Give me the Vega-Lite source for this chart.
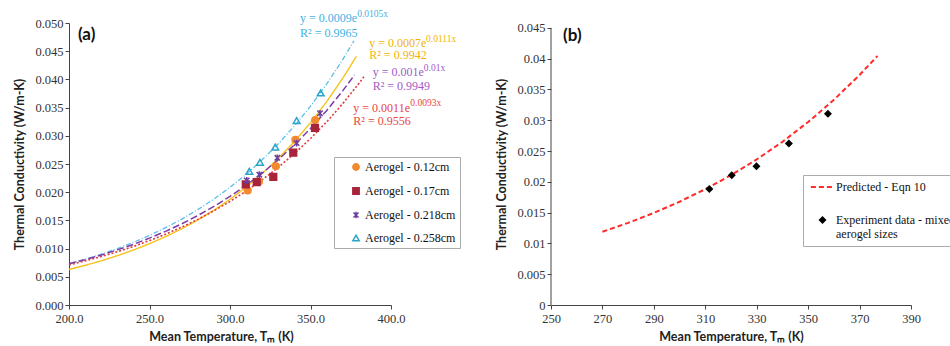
{
  "$schema": "https://vega.github.io/schema/vega-lite/v6.json",
  "background": "white",
  "padding": {"left": 13, "top": 8, "right": 0, "bottom": 0},
  "autosize": {"type": "pad"},
  "spacing": 160,
  "bounds": "flush",
  "resolve": {
    "scale": {"color": "independent", "fill": "independent", "stroke": "independent", "shape": "independent", "strokeDash": "independent", "strokeWidth": "independent"},
    "legend": {"color": "independent", "fill": "independent", "stroke": "independent", "shape": "independent", "strokeDash": "independent", "strokeWidth": "independent"}
  },
  "config": {
    "view": {"stroke": null},
    "axis": {
      "labelFont": "Liberation Serif", "labelFontSize": 12.5, "labelColor": "#333",
      "titleFont": "Lato", "titleFontSize": 12.5, "titleFontWeight": "bold", "titleColor": "#222",
      "domainColor": "#444", "tickColor": "#444", "tickSize": 4, "grid": false, "domainWidth": 1,
      "labelOverlap": false, "labelFlush": false
    }
  },
  "datasets": {
    "curvesA": [
      {"T": 200, "k": 0.0073, "curve": "0.258"}, {"T": 210, "k": 0.00811, "curve": "0.258"}, {"T": 220, "k": 0.00901, "curve": "0.258"},
      {"T": 230, "k": 0.01, "curve": "0.258"}, {"T": 240, "k": 0.01111, "curve": "0.258"}, {"T": 250, "k": 0.01234, "curve": "0.258"},
      {"T": 260, "k": 0.01371, "curve": "0.258"}, {"T": 270, "k": 0.01522, "curve": "0.258"}, {"T": 280, "k": 0.01691, "curve": "0.258"},
      {"T": 290, "k": 0.01878, "curve": "0.258"}, {"T": 300, "k": 0.02086, "curve": "0.258"}, {"T": 310, "k": 0.02317, "curve": "0.258"},
      {"T": 320, "k": 0.02574, "curve": "0.258"}, {"T": 330, "k": 0.02858, "curve": "0.258"}, {"T": 340, "k": 0.03175, "curve": "0.258"},
      {"T": 350, "k": 0.03526, "curve": "0.258"}, {"T": 360, "k": 0.03917, "curve": "0.258"}, {"T": 370, "k": 0.0435, "curve": "0.258"},
      {"T": 377, "k": 0.04683, "curve": "0.258"},
      {"T": 200, "k": 0.0063, "curve": "0.12"}, {"T": 210, "k": 0.00703, "curve": "0.12"}, {"T": 220, "k": 0.00783, "curve": "0.12"},
      {"T": 230, "k": 0.00874, "curve": "0.12"}, {"T": 240, "k": 0.00974, "curve": "0.12"}, {"T": 250, "k": 0.01087, "curve": "0.12"},
      {"T": 260, "k": 0.01212, "curve": "0.12"}, {"T": 270, "k": 0.01351, "curve": "0.12"}, {"T": 280, "k": 0.01507, "curve": "0.12"},
      {"T": 290, "k": 0.0168, "curve": "0.12"}, {"T": 300, "k": 0.01874, "curve": "0.12"}, {"T": 310, "k": 0.0209, "curve": "0.12"},
      {"T": 320, "k": 0.0233, "curve": "0.12"}, {"T": 330, "k": 0.02599, "curve": "0.12"}, {"T": 340, "k": 0.02898, "curve": "0.12"},
      {"T": 350, "k": 0.03232, "curve": "0.12"}, {"T": 360, "k": 0.03604, "curve": "0.12"}, {"T": 370, "k": 0.04019, "curve": "0.12"},
      {"T": 378.5, "k": 0.04409, "curve": "0.12"},
      {"T": 200, "k": 0.0073, "curve": "0.218"}, {"T": 210, "k": 0.00804, "curve": "0.218"}, {"T": 220, "k": 0.00886, "curve": "0.218"},
      {"T": 230, "k": 0.00977, "curve": "0.218"}, {"T": 240, "k": 0.01076, "curve": "0.218"}, {"T": 250, "k": 0.01186, "curve": "0.218"},
      {"T": 260, "k": 0.01306, "curve": "0.218"}, {"T": 270, "k": 0.01439, "curve": "0.218"}, {"T": 280, "k": 0.01586, "curve": "0.218"},
      {"T": 290, "k": 0.01748, "curve": "0.218"}, {"T": 300, "k": 0.01926, "curve": "0.218"}, {"T": 310, "k": 0.02122, "curve": "0.218"},
      {"T": 320, "k": 0.02338, "curve": "0.218"}, {"T": 330, "k": 0.02576, "curve": "0.218"}, {"T": 340, "k": 0.02839, "curve": "0.218"},
      {"T": 350, "k": 0.03128, "curve": "0.218"}, {"T": 360, "k": 0.03446, "curve": "0.218"}, {"T": 370, "k": 0.03797, "curve": "0.218"},
      {"T": 377.4, "k": 0.0408, "curve": "0.218"},
      {"T": 200, "k": 0.0071, "curve": "0.17"}, {"T": 210, "k": 0.00781, "curve": "0.17"}, {"T": 220, "k": 0.00859, "curve": "0.17"},
      {"T": 230, "k": 0.00944, "curve": "0.17"}, {"T": 240, "k": 0.01038, "curve": "0.17"}, {"T": 250, "k": 0.01142, "curve": "0.17"},
      {"T": 260, "k": 0.01256, "curve": "0.17"}, {"T": 270, "k": 0.01381, "curve": "0.17"}, {"T": 280, "k": 0.01518, "curve": "0.17"},
      {"T": 290, "k": 0.0167, "curve": "0.17"}, {"T": 300, "k": 0.01836, "curve": "0.17"}, {"T": 310, "k": 0.02019, "curve": "0.17"},
      {"T": 320, "k": 0.0222, "curve": "0.17"}, {"T": 330, "k": 0.02441, "curve": "0.17"}, {"T": 340, "k": 0.02685, "curve": "0.17"},
      {"T": 350, "k": 0.02952, "curve": "0.17"}, {"T": 360, "k": 0.03246, "curve": "0.17"}, {"T": 370, "k": 0.0357, "curve": "0.17"},
      {"T": 380, "k": 0.03926, "curve": "0.17"}, {"T": 384, "k": 0.04078, "curve": "0.17"}
    ],
    "pointsA": [
      {"T": 311, "k": 0.0203, "sample": "Aerogel - 0.12cm"}, {"T": 318, "k": 0.0219, "sample": "Aerogel - 0.12cm"},
      {"T": 328.5, "k": 0.0246, "sample": "Aerogel - 0.12cm"}, {"T": 340.6, "k": 0.0293, "sample": "Aerogel - 0.12cm"},
      {"T": 352.9, "k": 0.0328, "sample": "Aerogel - 0.12cm"},
      {"T": 309.8, "k": 0.0214, "sample": "Aerogel - 0.17cm"}, {"T": 316.6, "k": 0.0218, "sample": "Aerogel - 0.17cm"},
      {"T": 326.9, "k": 0.0227, "sample": "Aerogel - 0.17cm"}, {"T": 339.3, "k": 0.027, "sample": "Aerogel - 0.17cm"},
      {"T": 352.8, "k": 0.0314, "sample": "Aerogel - 0.17cm"},
      {"T": 310.4, "k": 0.0221, "sample": "Aerogel - 0.218cm"}, {"T": 318.2, "k": 0.0231, "sample": "Aerogel - 0.218cm"},
      {"T": 329.4, "k": 0.0261, "sample": "Aerogel - 0.218cm"}, {"T": 341.4, "k": 0.0287, "sample": "Aerogel - 0.218cm"},
      {"T": 355.9, "k": 0.034, "sample": "Aerogel - 0.218cm"},
      {"T": 312, "k": 0.0237, "sample": "Aerogel - 0.258cm"}, {"T": 318.6, "k": 0.0253, "sample": "Aerogel - 0.258cm"},
      {"T": 328.1, "k": 0.028, "sample": "Aerogel - 0.258cm"}, {"T": 341.4, "k": 0.0327, "sample": "Aerogel - 0.258cm"},
      {"T": 356.3, "k": 0.0376, "sample": "Aerogel - 0.258cm"}
    ],
    "eqMain": [
      {"T": 343.5, "k": 0.0509, "label": "y = 0.0009e", "tc": "t0.258"},
      {"T": 343.5, "k": 0.0482, "label": "R² = 0.9965", "tc": "t0.258"},
      {"T": 386.5, "k": 0.04645, "label": "y = 0.0007e", "tc": "t0.12"},
      {"T": 386.5, "k": 0.04427, "label": "R² = 0.9942", "tc": "t0.12"},
      {"T": 388.6, "k": 0.04126, "label": "y = 0.001e", "tc": "t0.218"},
      {"T": 388.6, "k": 0.03878, "label": "R² = 0.9949", "tc": "t0.218"},
      {"T": 376.6, "k": 0.03493, "label": "y = 0.0011e", "tc": "t0.17"},
      {"T": 376.6, "k": 0.03257, "label": "R² = 0.9556", "tc": "t0.17"}
    ],
    "eqExp": [
      {"T": 379, "k": 0.0516, "label": "0.0105x", "tc": "t0.258"},
      {"T": 421.8, "k": 0.04716, "label": "0.0111x", "tc": "t0.12"},
      {"T": 420.4, "k": 0.04202, "label": "0.01x", "tc": "t0.218"},
      {"T": 412, "k": 0.03573, "label": "0.0093x", "tc": "t0.17"}
    ],
    "curveB": [
      {"T": 270, "k": 0.0119}, {"T": 280, "k": 0.01334}, {"T": 290, "k": 0.01496}, {"T": 300, "k": 0.01677},
      {"T": 310, "k": 0.01881}, {"T": 320, "k": 0.02108}, {"T": 330, "k": 0.02364}, {"T": 340, "k": 0.0265},
      {"T": 350, "k": 0.02972}, {"T": 360, "k": 0.03332}, {"T": 370, "k": 0.03736}, {"T": 377, "k": 0.04047}
    ],
    "pointsB": [
      {"T": 311.6, "k": 0.01885, "series": "Experiment data - mixed aerogel sizes"},
      {"T": 320.3, "k": 0.02107, "series": "Experiment data - mixed aerogel sizes"},
      {"T": 329.9, "k": 0.02253, "series": "Experiment data - mixed aerogel sizes"},
      {"T": 342.5, "k": 0.02621, "series": "Experiment data - mixed aerogel sizes"},
      {"T": 357.7, "k": 0.03108, "series": "Experiment data - mixed aerogel sizes"}
    ]
  },
  "hconcat": [
    {
      "width": 322,
      "height": 282,
      "encoding": {
        "x": {"field": "T", "type": "quantitative", "scale": {"domain": [200, 400], "nice": false, "zero": false},
          "axis": {"values": [200, 250, 300, 350, 400], "tickCount": 6, "format": ".1f", "title": "Mean Temperature, Tₘ (K)", "labelPadding": 3, "titlePadding": 6, "titleX": 152,
            "labelFont": "Liberation Serif", "labelFontSize": 12.5, "labelOverlap": false, "labelFlush": false}},
        "y": {"field": "k", "type": "quantitative", "scale": {"domain": [0, 0.05], "nice": false},
          "axis": {"values": [0, 0.005, 0.01, 0.015, 0.02, 0.025, 0.03, 0.035, 0.04, 0.045, 0.05], "tickCount": 12, "format": ".3f", "title": "Thermal Conductivity (W/m-K)", "labelPadding": 2, "titlePadding": 8,
            "labelFont": "Liberation Serif", "labelFontSize": 12.5, "labelOverlap": false}}
      },
      "layer": [
        {
          "data": {"name": "curvesA"},
          "mark": {"type": "line", "clip": false},
          "encoding": {
            "color": {"field": "curve", "type": "nominal", "legend": null,
              "scale": {"domain": ["0.258", "0.12", "0.218", "0.17", "t0.258", "t0.12", "t0.218", "t0.17"],
                "range": ["#5BBEEA", "#F8C21A", "#7B3BA8", "#E0393E", "#3FB2E4", "#F2B400", "#A35BC4", "#E8453F"]}},
            "strokeDash": {"field": "curve", "type": "nominal", "legend": null,
              "scale": {"domain": ["0.258", "0.12", "0.218", "0.17"], "range": [[5, 2, 1, 2], [1, 0], [7, 3], [2, 2]]}},
            "strokeWidth": {"field": "curve", "type": "nominal", "legend": null,
              "scale": {"domain": ["0.258", "0.12", "0.218", "0.17"], "range": [1.3, 1.6, 2, 1.6]}}
          }
        },
        {
          "data": {"name": "pointsA"},
          "mark": {"type": "point", "filled": true, "size": 45, "strokeWidth": 1.5, "opacity": 1},
          "encoding": {
            "shape": {"field": "sample", "type": "nominal",
              "scale": {"domain": ["Aerogel - 0.12cm", "Aerogel - 0.17cm", "Aerogel - 0.218cm", "Aerogel - 0.258cm"],
                "range": ["circle", "square", "M-0.8,-0.8L0.8,0.8M-0.8,0.8L0.8,-0.8M0,-1L0,1", "triangle-up"]},
              "legend": {"title": null, "orient": "none", "legendX": 265, "legendY": 134, "padding": 4, "strokeColor": "#aaa", "fillColor": "white",
                "labelFont": "Liberation Serif", "labelFontSize": 12, "labelColor": "#111", "rowPadding": 10, "symbolOffset": 12, "labelOffset": 3, "symbolSize": 40, "symbolStrokeWidth": 1.5}},
            "fill": {"field": "sample", "type": "nominal",
              "scale": {"domain": ["Aerogel - 0.12cm", "Aerogel - 0.17cm", "Aerogel - 0.218cm", "Aerogel - 0.258cm"],
                "range": ["#F28A30", "#A8243A", "transparent", "transparent"]},
              "legend": {"title": null, "orient": "none", "legendX": 265, "legendY": 134, "padding": 4, "strokeColor": "#aaa", "fillColor": "white",
                "labelFont": "Liberation Serif", "labelFontSize": 12, "labelColor": "#111", "rowPadding": 10, "symbolOffset": 12, "labelOffset": 3, "symbolSize": 40, "symbolStrokeWidth": 1.5}},
            "stroke": {"field": "sample", "type": "nominal",
              "scale": {"domain": ["Aerogel - 0.12cm", "Aerogel - 0.17cm", "Aerogel - 0.218cm", "Aerogel - 0.258cm"],
                "range": ["#F28A30", "#A8243A", "#6A3FA0", "#2AA3C9"]},
              "legend": {"title": null, "orient": "none", "legendX": 265, "legendY": 134, "padding": 4, "strokeColor": "#aaa", "fillColor": "white",
                "labelFont": "Liberation Serif", "labelFontSize": 12, "labelColor": "#111", "rowPadding": 10, "symbolOffset": 12, "labelOffset": 3, "symbolSize": 40, "symbolStrokeWidth": 1.5}}
          }
        },
        {
          "data": {"name": "eqMain"},
          "mark": {"type": "text", "font": "Liberation Serif", "fontSize": 12, "align": "left", "baseline": "middle"},
          "encoding": {
            "text": {"field": "label"},
            "color": {"field": "tc", "type": "nominal", "legend": null}
          }
        },
        {
          "data": {"name": "eqExp"},
          "mark": {"type": "text", "font": "Liberation Serif", "fontSize": 9.5, "align": "left", "baseline": "middle"},
          "encoding": {
            "text": {"field": "label"},
            "color": {"field": "tc", "type": "nominal", "legend": null}
          }
        },
        {
          "data": {"values": [{"T": 205.6, "k": 0.04796, "label": "(a)"}]},
          "mark": {"type": "text", "font": "Lato", "fontSize": 17, "fontWeight": "bold", "align": "left", "baseline": "middle", "color": "#111"},
          "encoding": {
            "text": {"field": "label"}
          }
        }
      ]
    },
    {
      "width": 360,
      "height": 282,
      "encoding": {
        "x": {"field": "T", "type": "quantitative", "scale": {"domain": [250, 390], "nice": false, "zero": false},
          "axis": {"values": [250, 270, 290, 310, 330, 350, 370, 390], "tickCount": 9, "format": "d", "title": "Mean Temperature, Tₘ (K)", "labelPadding": 3, "titlePadding": 6,
            "labelFont": "Liberation Serif", "labelFontSize": 12.5, "labelOverlap": false, "labelFlush": false}},
        "y": {"field": "k", "type": "quantitative", "scale": {"domain": [0, 0.0458], "nice": false},
          "axis": {"values": [0, 0.005, 0.01, 0.015, 0.02, 0.025, 0.03, 0.035, 0.04, 0.045], "tickCount": 11, "format": "~g", "title": "Thermal Conductivity (W/m-K)", "labelPadding": 2, "titlePadding": 8, "domain": false,
            "labelFont": "Liberation Serif", "labelFontSize": 12.5, "labelOverlap": false}}
      },
      "layer": [
        {
          "data": {"name": "curveB"},
          "mark": {"type": "line", "color": "#FF2A2A", "strokeDash": [5, 3], "strokeWidth": 2}
        },
        {
          "data": {"values": [{"T": 250, "k": 0, "k2": 0.045}]},
          "mark": {"type": "rule", "color": "#444", "strokeWidth": 1},
          "encoding": {
            "y2": {"field": "k2"}
          }
        },
        {
          "data": {"name": "pointsB"},
          "mark": {"type": "point", "filled": true, "size": 64, "strokeWidth": 2, "opacity": 1},
          "encoding": {
            "shape": {"field": "series", "type": "nominal",
              "scale": {"domain": ["Predicted - Eqn 10", "Experiment data - mixed aerogel sizes"], "range": ["M-2.9,0L2.9,0", "diamond"]},
              "legend": {"title": null, "orient": "none", "legendX": 252, "legendY": 152, "padding": 6, "strokeColor": "#aaa", "fillColor": "white",
                "labelFont": "Liberation Serif", "labelFontSize": 12, "labelColor": "#111", "rowPadding": 19, "symbolOffset": 7.5, "labelOffset": 7.5,
                "symbolSize": 64, "symbolStrokeWidth": 2, "symbolDash": [5, 3], "labelLimit": 400,
                "labelExpr": "datum.label == 'Predicted - Eqn 10' ? datum.label : ['Experiment data - mixed', 'aerogel sizes']"}},
            "fill": {"field": "series", "type": "nominal",
              "scale": {"domain": ["Predicted - Eqn 10", "Experiment data - mixed aerogel sizes"], "range": ["transparent", "#000000"]},
              "legend": {"title": null, "orient": "none", "legendX": 252, "legendY": 152, "padding": 6, "strokeColor": "#aaa", "fillColor": "white",
                "labelFont": "Liberation Serif", "labelFontSize": 12, "labelColor": "#111", "rowPadding": 19, "symbolOffset": 7.5, "labelOffset": 7.5,
                "symbolSize": 64, "symbolStrokeWidth": 2, "symbolDash": [5, 3], "labelLimit": 400,
                "labelExpr": "datum.label == 'Predicted - Eqn 10' ? datum.label : ['Experiment data - mixed', 'aerogel sizes']"}},
            "stroke": {"field": "series", "type": "nominal",
              "scale": {"domain": ["Predicted - Eqn 10", "Experiment data - mixed aerogel sizes"], "range": ["#FF2A2A", "transparent"]},
              "legend": {"title": null, "orient": "none", "legendX": 252, "legendY": 152, "padding": 6, "strokeColor": "#aaa", "fillColor": "white",
                "labelFont": "Liberation Serif", "labelFontSize": 12, "labelColor": "#111", "rowPadding": 19, "symbolOffset": 7.5, "labelOffset": 7.5,
                "symbolSize": 64, "symbolStrokeWidth": 2, "symbolDash": [5, 3], "labelLimit": 400,
                "labelExpr": "datum.label == 'Predicted - Eqn 10' ? datum.label : ['Experiment data - mixed', 'aerogel sizes']"}}
          }
        },
        {
          "data": {"values": [{"T": 254.7, "k": 0.04369, "label": "(b)"}]},
          "mark": {"type": "text", "font": "Lato", "fontSize": 17, "fontWeight": "bold", "align": "left", "baseline": "middle", "color": "#111"},
          "encoding": {
            "text": {"field": "label"}
          }
        }
      ]
    }
  ]
}
